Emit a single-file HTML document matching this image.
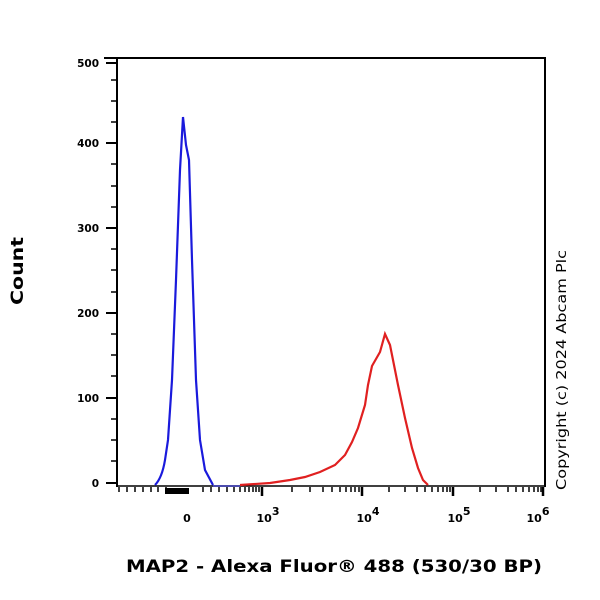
<!DOCTYPE html>
<html><head><style>body{margin:0;background:#fff}svg{display:block}</style></head><body>
<svg width="600" height="600" viewBox="0 0 600 600" xmlns="http://www.w3.org/2000/svg" font-family="DejaVu Sans, Liberation Sans, sans-serif">
<rect width="600" height="600" fill="#fff"/>
<path d="M104,58H545V487M117,58V487" stroke="#000" stroke-width="2" fill="none"/>
<line x1="117" y1="486" x2="545" y2="486" stroke="#000" stroke-width="1.5"/>
<g stroke="#000" stroke-width="2">
<line x1="106" y1="63" x2="117" y2="63"/><line x1="106" y1="143" x2="117" y2="143"/><line x1="106" y1="228" x2="117" y2="228"/><line x1="106" y1="313" x2="117" y2="313"/><line x1="106" y1="398" x2="117" y2="398"/><line x1="106" y1="483" x2="117" y2="483"/>
</g>
<g stroke="#000" stroke-width="1.5">
<line x1="111" y1="80" x2="117" y2="80"/><line x1="111" y1="101" x2="117" y2="101"/><line x1="111" y1="122" x2="117" y2="122"/>
<line x1="111" y1="164" x2="117" y2="164"/><line x1="111" y1="186" x2="117" y2="186"/><line x1="111" y1="207" x2="117" y2="207"/>
<line x1="111" y1="249" x2="117" y2="249"/><line x1="111" y1="270" x2="117" y2="270"/><line x1="111" y1="292" x2="117" y2="292"/>
<line x1="111" y1="334" x2="117" y2="334"/><line x1="111" y1="355" x2="117" y2="355"/><line x1="111" y1="376" x2="117" y2="376"/>
<line x1="111" y1="419" x2="117" y2="419"/><line x1="111" y1="440" x2="117" y2="440"/><line x1="111" y1="461" x2="117" y2="461"/>
</g>
<g font-size="10.5" font-weight="bold" text-anchor="end">
<text x="99" y="67">500</text><text x="99" y="147">400</text><text x="99" y="232">300</text><text x="99" y="317">200</text><text x="99" y="402">100</text><text x="99" y="487">0</text>
</g>
<g stroke="#000" stroke-width="1.5">
<path d="M119,487v5M127,487v5M135,487v5M143,487v5M151,487v5M158,487v5M166,487v5M203,487v5M211,487v5M219,487v5M227,487v5M234,487v5M240,487v5M245,487v5M249,487v5M253,487v5M256,487v5M259,487v5
M292,487v5M310,487v5M323,487v5M332,487v5M340,487v5M346,487v5M351,487v5M355,487v5M359,487v5
M389,487v5M405,487v5M417,487v5M425,487v5M432,487v5M438,487v5M443,487v5M447,487v5M450,487v5
M480,487v5M496,487v5M508,487v5M516,487v5M523,487v5M529,487v5M534,487v5M538,487v5M541,487v5"/>
</g>
<g stroke="#000" stroke-width="2.5">
<path d="M262,487v9M362,487v9M453,487v9M543,487v9"/>
</g>
<rect x="165" y="488" width="24" height="6" fill="#000"/>
<g font-size="11" font-weight="bold" text-anchor="middle">
<text x="187" y="522">0</text>
<text x="268" y="522">10<tspan dy="-7" font-size="11">3</tspan></text>
<text x="368" y="522">10<tspan dy="-7" font-size="11">4</tspan></text>
<text x="459" y="522">10<tspan dy="-7" font-size="11">5</tspan></text>
<text x="538" y="522">10<tspan dy="-7" font-size="11">6</tspan></text>
</g>
<path d="M155,485 C160,480 163,472 165,460 L168,440 L172,380 L176,280 L180,170 L183,117 L186,145 L189,160 L192,260 L196,380 L200,440 L205,470 L213,485" stroke="#1a1adc" stroke-width="2.2" fill="none"/>
<path d="M240,485 L270,483 L290,480 L305,477 L320,472 L335,465 L345,455 L352,442 L358,428 L365,405 L368,385 L372,366 L380,352 L385,334 L390,345 L394,365 L398,385 L405,418 L412,448 L418,468 L423,480 L428,485" stroke="#e02020" stroke-width="2.2" fill="none"/>
<line x1="213" y1="486" x2="240" y2="486" stroke="#1a1adc" stroke-width="1"/>
<text x="23" y="271" font-size="17" font-weight="bold" text-anchor="middle" textLength="68" lengthAdjust="spacingAndGlyphs" transform="rotate(-90 23 271)">Count</text>
<text x="334" y="572" font-size="17" font-weight="bold" text-anchor="middle" textLength="416" lengthAdjust="spacingAndGlyphs">MAP2 - Alexa Fluor® 488 (530/30 BP)</text>
<text x="566" y="370" font-size="13" text-anchor="middle" textLength="240" lengthAdjust="spacingAndGlyphs" transform="rotate(-90 566 370)">Copyright (c) 2024 Abcam Plc</text>
</svg>
</body></html>
